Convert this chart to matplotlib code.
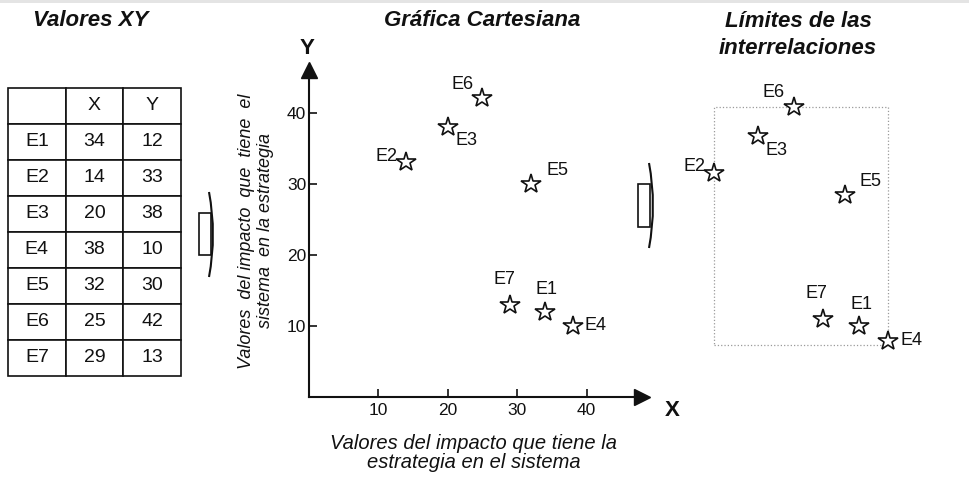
import matplotlib.pyplot as plt
import matplotlib.patches as mpatches
from matplotlib.path import Path

plt.rcParams['font.family'] = ['Liberation Sans', 'DejaVu Sans']

# data
names = ['E1', 'E2', 'E3', 'E4', 'E5', 'E6', 'E7']
x_vals = [34, 14, 20, 38, 32, 25, 29]
y_vals = [12, 33, 38, 10, 30, 42, 13]
ticks = [10, 20, 30, 40]

# label offsets (pixels) for each point
offsets = {
    'E1': (2, 22), 'E2': (-20, 6), 'E3': (19, -14), 'E4': (23, 0),
    'E5': (26, 13), 'E6': (-20, 14), 'E7': (-6, 25),
}
ink = '#111111'

fig = plt.figure(figsize=(9.69, 4.88), dpi=100)

# overlay for free drawing in pixel coords
bg = fig.add_axes([0, 0, 1, 1], zorder=0)
bg.set_xlim(0, 969)
bg.set_ylim(488, 0)
bg.axis('off')
bg.add_patch(mpatches.Rectangle((0, 0), 969, 3, color='#e4e4e4', lw=0))


def bracket_arrow(x0, y0, x1, y1, cx, ctop, cbot):
    bg.add_patch(mpatches.Rectangle((x0, y0), x1 - x0, y1 - y0, fill=False,
                                    ec=ink, lw=1.2))
    path = Path([(cx, ctop), (cx + 8, (ctop + cbot) / 2), (cx, cbot)],
                [Path.MOVETO, Path.CURVE3, Path.CURVE3])
    bg.add_patch(mpatches.PathPatch(path, fill=False, ec=ink, lw=1.5))


bracket_arrow(199, 213, 211, 255, 209, 192, 277)
bracket_arrow(638, 184, 650, 227, 649, 163, 248)

# titles
title_kw = dict(ha='center', va='center', fontsize=16, fontweight='bold',
                fontstyle='italic', color=ink)
fig.text(91 / 969, 1 - 20 / 488, 'Valores XY', **title_kw)
fig.text(482 / 969, 1 - 20 / 488, 'Gráfica Cartesiana', **title_kw)
fig.text(798 / 969, 1 - 35 / 488, 'Límites de las\ninterrelaciones',
         linespacing=1.4, **title_kw)

# table
tax = fig.add_axes([8 / 969, (488 - 376) / 488, 173 / 969, 288 / 488])
tax.axis('off')
cells = [['', 'X', 'Y']] + [[n, str(a), str(b)]
                            for n, a, b in zip(names, x_vals, y_vals)]
tbl = tax.table(cellText=cells, cellLoc='center', bbox=[0, 0, 1, 1])
tbl.auto_set_font_size(False)
for (r, c), cell in tbl.get_celld().items():
    cell.set_linewidth(1.2)
    cell.set_edgecolor(ink)
    cell.get_text().set_fontsize(14)
    cell.get_text().set_color(ink)

# cartesian chart
ax = fig.add_axes([309 / 969, (488 - 397) / 488, 333 / 969, 327 / 488],
                  zorder=2)
ax.patch.set_alpha(0)
ax.set_xlim(0, 48)
ax.set_ylim(0, 46)
for s in ['top', 'right']:
    ax.spines[s].set_visible(False)
for s in ['left', 'bottom']:
    ax.spines[s].set_linewidth(1.5)
    ax.spines[s].set_color(ink)
ax.plot(1, 0, '>', color=ink, ms=11, transform=ax.get_yaxis_transform(),
        clip_on=False)
ax.plot(0, 1, '^', color=ink, ms=11, transform=ax.get_xaxis_transform(),
        clip_on=False)
ax.set_xticks(ticks)
ax.set_yticks(ticks)
ax.tick_params(direction='in', length=6, width=1.2, labelsize=12.5,
               colors=ink, pad=4)
ax.tick_params(axis='y', pad=2)
ax.plot(x_vals, y_vals, '*', ms=15, mfc='white', mec=ink, mew=1.2,
        linestyle='none')
for n, a, b in zip(names, x_vals, y_vals):
    ax.annotate(n, (a, b), xytext=offsets[n], textcoords='offset pixels',
                ha='center', va='center', fontsize=13, color=ink)

fig.text(307 / 969, 1 - 48 / 488, 'Y', ha='center', va='center',
         fontsize=16, fontweight='bold', color=ink)
fig.text(672 / 969, 1 - 410 / 488, 'X', ha='center', va='center',
         fontsize=16, fontweight='bold', color=ink)
fig.text(474 / 969, 1 - 453 / 488,
         'Valores del impacto que tiene la\nestrategia en el sistema',
         ha='center', va='center', fontsize=14.5, fontstyle='italic',
         color=ink, linespacing=1.05)
fig.text(256 / 969, 1 - 231 / 488,
         'Valores  del impacto  que  tiene  el\nsistema  en la estrategia',
         ha='center', va='center', rotation=90, fontsize=13,
         fontstyle='italic', color=ink, linespacing=1.15)

# limits panel
rax = fig.add_axes([680 / 969, (488 - 370) / 488, 240 / 969, 280 / 488],
                   zorder=2)
rax.set_xlim(9.31, 42.41)
rax.set_ylim(6.02, 44.32)
rax.axis('off')
x0, x1 = min(x_vals), max(x_vals)
y0, y1 = min(y_vals), max(y_vals)
rax.add_patch(mpatches.Rectangle((x0, y0 - 0.6), x1 - x0, y1 - y0 + 0.6,
                                 fill=False, ec='#9a9a9a', lw=0.9,
                                 linestyle=':'))
rax.plot(x_vals, y_vals, '*', ms=15, mfc='white', mec=ink, mew=1.2,
         linestyle='none', clip_on=False)
for n, a, b in zip(names, x_vals, y_vals):
    rax.annotate(n, (a, b), xytext=offsets[n], textcoords='offset pixels',
                 ha='center', va='center', fontsize=13, color=ink)

fig.savefig('out.png', dpi=100, facecolor='white')
